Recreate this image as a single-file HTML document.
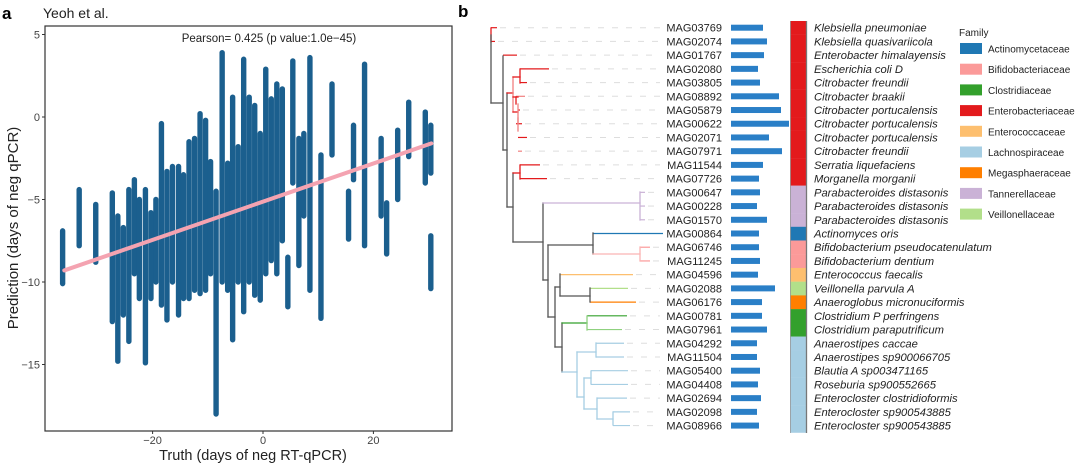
<!DOCTYPE html>
<html><head><meta charset="utf-8">
<style>
html,body{margin:0;padding:0;background:#fff;}
svg{display:block;font-family:"Liberation Sans",sans-serif;}
</style></head>
<body>
<svg id="fig" width="1080" height="466" viewBox="0 0 1080 466">
  <text x="2" y="19" font-size="17" font-weight="bold">a</text>
  <text x="43" y="18" font-size="14" fill="#222">Yeoh et al.</text>
  <text x="458" y="17" font-size="17" font-weight="bold">b</text>
  <g id="scatter"></g>
  <g id="tree"></g>
  <g id="bars"></g>
  <g id="strip"></g>
  <g id="legend"></g>
</svg>
<script>
// ---------- Panel a data ----------
const stripX   = [-36.3,-33.3,-30.3,-27.3,-26.3,-25.3,-24.3,-23.3,-22.4,-21.3,-20.3,-19.4,-18.4,-17.4,-16.4,-15.3,-14.4,-13.4,-12.4,-11.4,-10.4,-9.5,-8.5,-7.4,-6.4,-5.5,-4.5,-3.5,-2.5,-1.5,-0.5,0.5,1.5,2.5,3.5,4.5,5.4,6.5,7.4,8.5,10.5,12.5,15.5,16.4,18.4,21.4,22.4,24.4,26.4,29.4,30.4,30.4];
const stripMin = [-10.1,-7.8,-8.8,-12.4,-14.8,-12,-13.6,-9.5,-11,-14.9,-11,-10,-11.4,-12.3,-10,-12,-11,-11,-10.5,-10.7,-10.5,-9.5,-18,-10,-10.5,-13.5,-10,-11.8,-10,-10.8,-11.1,-9.5,-8.7,-9.5,-7.5,-11.5,-4,-9,-6,-10.5,-12.2,-2.3,-7.4,-3.8,-7.8,-6,-8.3,-5,-2.4,-4,-10.4,-3.4];
const stripMax = [-6.9,-4.4,-5.3,-4.6,-6.0,-6.7,-4.4,-3.8,-5,-4.4,-5.8,-5,-0.4,-3.3,-3,-3,-3.5,-1.5,-1.3,0.2,-0.2,-2.7,-4.5,3.9,-2.8,1.2,-1.8,3.5,1.2,0.7,-1,2.9,1.1,2,1.7,-8.5,3.4,-1.3,-1,3.6,-2.3,2,-4.5,-0.5,3.2,-1.3,-5.2,-0.8,0.9,0.3,-7.2,-0.5];
const fitX = [-36, 30.5];
const fitY = [-9.3, -1.6];
const xTicks = [-20, 0, 20];
const yTicks = [5, 0, -5, -10, -15];

const NS = "http://www.w3.org/2000/svg";
function mk(tag, attrs, parent){const e=document.createElementNS(NS,tag);for(const k in attrs)e.setAttribute(k,attrs[k]);parent.appendChild(e);return e;}
const sx = v => 263 + v*5.52;
const sy = v => 117 - v*16.5;

const sc = document.getElementById('scatter');
const frame = mk('rect',{x:45,y:26,width:407,height:405,fill:'none',stroke:'#333','stroke-width':1.2},sc);


for (const t of xTicks){
  const l=mk('line',{x1:sx(t),x2:sx(t),y1:431,y2:434,stroke:'#333'},sc);
  
  
  const tx=mk('text',{x:sx(t),y:444,'font-size':11,fill:'#444','text-anchor':'middle'},sc);
  tx.textContent = t<0 ? '\u2212'+(-t) : t;
  
  
}
for (const t of yTicks){
  const l=mk('line',{x1:42,x2:45,y1:sy(t),y2:sy(t),stroke:'#333'},sc);
  
  
  const tx=mk('text',{x:40,y:sy(t)+4,'font-size':11,fill:'#444','text-anchor':'end'},sc);
  tx.textContent = t<0 ? '\u2212'+(-t) : t;
  
  
}
for (let i=0;i<stripX.length;i++){
  const l=mk('line',{x1:sx(stripX[i]),x2:sx(stripX[i]),y1:sy(stripMax[i]),y2:sy(stripMin[i]),stroke:'#1b5f8e','stroke-width':5.4,'stroke-linecap':'round'},sc);
  
  
}
const fit=mk('line',{x1:sx(fitX[0]),y1:sy(fitY[0]),x2:sx(fitX[1]),y2:sy(fitY[1]),stroke:'#f4a3b1','stroke-width':4,'stroke-linecap':'round'},sc);


const pt=mk('text',{x:269,y:42,'font-size':11.5,fill:'#222','text-anchor':'middle'},sc);
pt.textContent='Pearson= 0.425 (p value:1.0e\u221245)';


const xt=mk('text',{x:253,y:460,'font-size':14.5,fill:'#222','text-anchor':'middle'},sc);
xt.textContent='Truth (days of neg RT-qPCR)';


const yt=mk('text',{x:0,y:0,'font-size':15,fill:'#222','text-anchor':'middle',transform:'translate(18,228) rotate(-90)'},sc);
yt.textContent='Prediction (days of neg qPCR)';



// ---------- Panel b data ----------
const mags = ['MAG03769','MAG02074','MAG01767','MAG02080','MAG03805','MAG08892','MAG05879','MAG00622','MAG02071','MAG07971','MAG11544','MAG07726','MAG00647','MAG00228','MAG01570','MAG00864','MAG06746','MAG11245','MAG04596','MAG02088','MAG06176','MAG00781','MAG07961','MAG04292','MAG11504','MAG05400','MAG04408','MAG02694','MAG02098','MAG08966'];
const species = ['Klebsiella pneumoniae','Klebsiella quasivariicola','Enterobacter himalayensis','Escherichia coli D','Citrobacter freundii','Citrobacter braakii','Citrobacter portucalensis','Citrobacter portucalensis','Citrobacter portucalensis','Citrobacter freundii','Serratia liquefaciens','Morganella morganii','Parabacteroides distasonis','Parabacteroides distasonis','Parabacteroides distasonis','Actinomyces oris','Bifidobacterium pseudocatenulatum','Bifidobacterium dentium','Enterococcus faecalis','Veillonella parvula A','Anaeroglobus micronuciformis','Clostridium P perfringens','Clostridium paraputrificum','Anaerostipes caccae','Anaerostipes sp900066705','Blautia A sp003471165','Roseburia sp900552665','Enterocloster clostridioformis','Enterocloster sp900543885','Enterocloster sp900543885'];
const barValues = [32,36,33,27,29,48,50,58,38,51,32,28,29,26,36,28,28,29,27,44,31,31,36,26,26,29,27,30,26,28];
const rowFamily = ['Ent','Ent','Ent','Ent','Ent','Ent','Ent','Ent','Ent','Ent','Ent','Ent','Tan','Tan','Tan','Act','Bif','Bif','Enc','Vei','Meg','Clo','Clo','Lac','Lac','Lac','Lac','Lac','Lac','Lac'];
const familyNames = ['Actinomycetaceae','Bifidobacteriaceae','Clostridiaceae','Enterobacteriaceae','Enterococcaceae','Lachnospiraceae','Megasphaeraceae','Tannerellaceae','Veillonellaceae'];
const familyKeys = ['Act','Bif','Clo','Ent','Enc','Lac','Meg','Tan','Vei'];
const familyColors = ['#1f78b4','#fb9a99','#33a02c','#e31a1c','#fdbf6f','#a6cee3','#ff7f00','#cab2d6','#b2df8a'];

const ry = i => 27.7 + 13.72*i;
const tree = document.getElementById('tree');
const tipX = [497,495,517,549,527,525,520,522,527,522,540,547,645,645,645,663,650,650,633,628,636,627,622,624,624,628,628,627,630,630];
const tipC = ['#e31a1c','#e31a1c','#e31a1c','#e31a1c','#e31a1c','#f08080','#e31a1c','#e31a1c','#e31a1c','#f08080','#e31a1c','#e31a1c','#cab2d6','#cab2d6','#cab2d6','#1f78b4','#fb9a99','#fb9a99','#fdbf6f','#b2df8a','#ff7f00','#33a02c','#8fd17f','#a6cee3','#a6cee3','#a6cee3','#a6cee3','#a6cee3','#a6cee3','#a6cee3'];
const tipFrom = [491,491,503,520,520,516,518,516,518,518,520,520,640,640,640,593,640,640,560,590,590,587,587,596,596,591,591,597,613,613];
for (let i=0;i<30;i++){
  if (tipX[i] < 655){
    const d=mk('line',{x1:tipX[i]+3,x2:660,y1:ry(i),y2:ry(i),stroke:'#ddd','stroke-width':1,'stroke-dasharray':'6,8'},tree);
    
    
  }
  const b=mk('line',{x1:tipFrom[i],x2:tipX[i],y1:ry(i),y2:ry(i),stroke:tipC[i],'stroke-width':1.2},tree);
  
  
}
const segs = [
 [491,28,491,42,'#e31a1c'],[491,35,491,103,'#555'],[491,103,503,103,'#555'],
 [503,56,503,150,'#555'],[503,150,507,150,'#555'],[507,93,507,207,'#555'],
 [507,93,513,93,'#e31a1c'],[513,77,513,112,'#f08080'],[513,77,520,77,'#e31a1c'],[520,69,520,83,'#e31a1c'],
 [513,97,516,97,'#e31a1c'],[516,97,516,104,'#e31a1c'],[513,112,518,112,'#e31a1c'],[518,104,518,124,'#f08080'],[516,97,518,97,'#e31a1c'],
 [518,118,518,131,'#f08080'],
 [507,207,513,207,'#555'],[513,173,513,242,'#555'],[513,173,520,173,'#e31a1c'],[520,165,520,179,'#e31a1c'],
 [513,242,543,242,'#555'],[543,203,543,280,'#555'],[543,203,640,203,'#cab2d6'],[640,192,640,220,'#cab2d6'],
 [543,280,548,280,'#555'],[548,245,548,317,'#555'],[548,245,593,245,'#555'],[593,233,593,254,'#555'],
 [593,254,640,254,'#fbb4b3'],[640,247,640,261,'#fbb4b3'],
 [548,317,555,317,'#555'],[555,287,555,347,'#555'],[555,287,560,287,'#555'],[560,274,560,296,'#555'],
 [560,296,590,296,'#555'],[590,288,590,302,'#555'],
 [555,347,562,347,'#555'],[562,323,562,372,'#555'],[562,323,587,323,'#33a02c'],[587,316,587,330,'#8fd17f'],
 [562,372,577,372,'#a6cee3'],[577,352,577,397,'#a6cee3'],[577,352,596,352,'#a6cee3'],[596,343,596,357,'#a6cee3'],
 [577,397,584,397,'#a6cee3'],[584,378,584,409,'#a6cee3'],[584,378,591,378,'#a6cee3'],[591,371,591,384,'#a6cee3'],
 [584,409,597,409,'#a6cee3'],[597,398,597,419,'#a6cee3'],[597,419,613,419,'#a6cee3'],[613,412,613,425,'#a6cee3']
];
for (const s of segs){
  const l=mk('line',{x1:s[0],y1:s[1],x2:s[2],y2:s[3],stroke:s[4],'stroke-width':1.3,'stroke-linecap':'square'},tree);
  
  
}
for (let i=0;i<30;i++){
  const t=mk('text',{x:722,y:ry(i)+4,'font-size':11,fill:'#222','text-anchor':'end'},tree);
  t.textContent=mags[i];
  
  
}
const bars=document.getElementById('bars');
for (let i=0;i<30;i++){
  const r=mk('rect',{x:731,y:ry(i)-3,width:barValues[i],height:6,fill:'#2a7fc7'},bars);
  
  
}
const strip=document.getElementById('strip');
for (let i=0;i<30;i++){
  const c=familyColors[familyKeys.indexOf(rowFamily[i])];
  const r=mk('rect',{x:790,y:21+13.72*i,width:16,height:13.9,fill:c},strip);
  
  
  const t=mk('text',{x:814,y:ry(i)+4,'font-size':11.2,'font-style':'italic',fill:'#222'},strip);
  t.textContent=species[i];
  
  
}
const sep=mk('line',{x1:806.5,x2:806.5,y1:21,y2:433,stroke:'#777','stroke-width':1.3},strip);


const sep2=mk('line',{x1:790.5,x2:790.5,y1:21,y2:433,stroke:'#999','stroke-width':0.8},strip);



const lg=document.getElementById('legend');
const lt=mk('text',{x:959,y:36,'font-size':10,fill:'#222'},lg);
lt.textContent='Family';


for (let k=0;k<familyNames.length;k++){
  const y=43+20.7*k;
  const r=mk('rect',{x:960,y:y,width:22,height:11,fill:familyColors[k]},lg);
  
  
  const t=mk('text',{x:988,y:y+9.5,'font-size':10,fill:'#222'},lg);
  t.textContent=familyNames[k];
  
  
}
</script>
</body></html>
